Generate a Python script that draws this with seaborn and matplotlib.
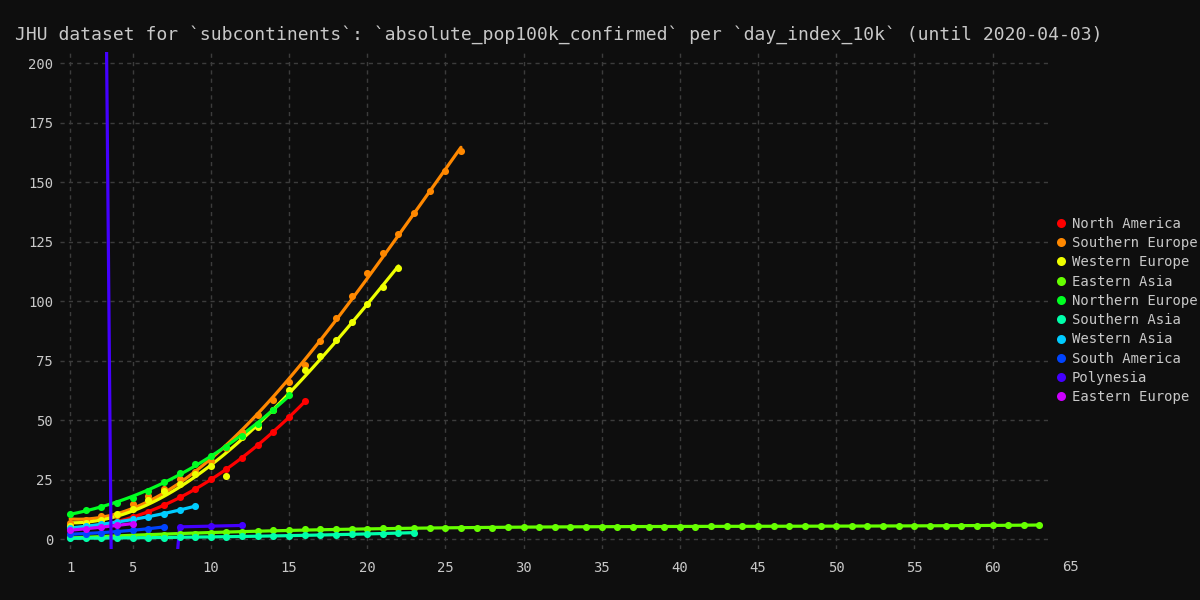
import colorsys
import numpy as np
import pandas as pd
import matplotlib
matplotlib.use("Agg")
import matplotlib.pyplot as plt
from matplotlib.lines import Line2D
import seaborn as sns

TITLE = "JHU dataset for `subcontinents`: `absolute_pop100k_confirmed` per `day_index_10k` (until 2020-04-03)"

regions = [
    "North America", "Southern Europe", "Western Europe", "Eastern Asia",
    "Northern Europe", "Southern Asia", "Western Asia", "South America",
    "Polynesia", "Eastern Europe",
]

# values per day index, starting at day 1
north_america = [4.6, 5.2, 6.0, 7.4, 9.4, 11.6, 14.3, 17.7, 21.4, 25.4, 29.6, 34.2,
                 39.7, 45.0, 51.4, 58.0]
southern_europe = [7.0, 8.1, 9.8, 10.1, 14.7, 18.2, 21.4, 25.2, 28.3, 32.8, 38.5, 45.0,
                   52.4, 58.6, 66.2, 73.1, 83.2, 93.0, 102.4, 111.8, 120.3, 128.4,
                   137.0, 146.2, 155.0, 163.4]
western_europe = [5.6, 7.0, 8.3, 10.5, 12.6, 16.4, 20.3, 23.5, 27.3, 30.7, 26.8, 43.1,
                  47.1, 54.5, 62.9, 71.0, 76.9, 83.6, 91.5, 99.1, 106.0, 113.9]
eastern_asia = [1.0, 1.1, 1.2, 1.4, 1.6, 1.8, 2.0, 2.3, 2.5, 2.7,
                3.0, 3.3, 3.5, 3.8, 4.0, 4.2, 4.3, 4.4, 4.5, 4.6,
                4.7, 4.75, 4.8, 4.85, 4.9, 4.95, 5.0, 5.0, 5.05, 5.1,
                5.1, 5.15, 5.2, 5.2, 5.25, 5.3, 5.3, 5.35, 5.4, 5.4,
                5.45, 5.5, 5.5, 5.55, 5.6, 5.6, 5.6, 5.65, 5.65, 5.7,
                5.7, 5.7, 5.75, 5.75, 5.8, 5.8, 5.8, 5.85, 5.85, 5.9,
                5.9, 5.9, 5.95]
northern_europe = [10.8, 12.2, 13.6, 15.5, 17.6, 20.5, 24.2, 28.0, 31.7, 35.2, 39.0,
                   43.3, 48.6, 54.5, 60.8]
southern_asia = [0.5, 0.55, 0.6, 0.65, 0.7, 0.75, 0.8, 0.9, 1.0, 1.1, 1.2, 1.3, 1.4,
                 1.5, 1.6, 1.75, 1.9, 2.0, 2.15, 2.3, 2.5, 2.7, 2.9]
western_asia = [4.8, 5.6, 6.4, 7.3, 8.4, 9.6, 10.9, 12.4, 14.0]
south_america = [2.2, 2.5, 2.9, 3.3, 3.9, 4.5, 5.3]
eastern_europe = [3.9, 4.5, 5.2, 5.9, 6.7]

polynesia_days = [8, 10, 12]
polynesia = [5.3, 5.6, 5.9]
# fitted curve of Polynesia as it appears in the picture (mostly off-screen)
polynesia_fit_days = [3, 4, 5, 6, 7, 8, 9, 10, 11, 12]
polynesia_fit = [443, -278, -250, -180, -73, 5.3, 5.45, 5.6, 5.75, 5.9]

series = {
    "North America": north_america,
    "Southern Europe": southern_europe,
    "Western Europe": western_europe,
    "Eastern Asia": eastern_asia,
    "Northern Europe": northern_europe,
    "Southern Asia": southern_asia,
    "Western Asia": western_asia,
    "South America": south_america,
    "Eastern Europe": eastern_europe,
}

x_ticks = [1, 5, 10, 15, 20, 25, 30, 35, 40, 45, 50, 55, 60]
y_ticks = [0, 25, 50, 75, 100, 125, 150, 175, 200]

BG = "#0e0e0e"
TEXT = "#c8c8c8"
GRID = "#3c3c3c"
FONT = "DejaVu Sans Mono"

sns.set_theme(style="dark")
plt.rcParams["font.family"] = [FONT, "DejaVu Sans"]

colors = {r: colorsys.hsv_to_rgb(h, 1.0, 1.0)
          for r, h in zip(regions, np.linspace(0, 0.8, len(regions)))}

fig = plt.figure(figsize=(12, 6), dpi=100, facecolor=BG)
ax = fig.add_axes([0.05, 0.085, 0.824, 0.828])
ax.set_facecolor(BG)

for name, values in series.items():
    df = pd.DataFrame({"day": np.arange(1, len(values) + 1), "value": values})
    sns.regplot(data=df, x="day", y="value", order=3, ci=None, truncate=True,
                color=colors[name], ax=ax,
                scatter_kws={"s": 26, "alpha": 1, "linewidths": 0, "zorder": 3},
                line_kws={"lw": 2.3, "zorder": 2})

poly_fit_df = pd.DataFrame({"day": polynesia_fit_days, "value": polynesia_fit})
sns.lineplot(data=poly_fit_df, x="day", y="value", color=colors["Polynesia"],
             lw=2.3, ax=ax, zorder=2)
poly_df = pd.DataFrame({"day": polynesia_days, "value": polynesia})
sns.scatterplot(data=poly_df, x="day", y="value", color=colors["Polynesia"],
                s=26, linewidth=0, ax=ax, zorder=3)

ax.set_xlim(0.35, 63.6)
ax.set_ylim(-4, 204.7)
ax.set_xticks(x_ticks)
ax.set_yticks(y_ticks)
ax.set_xlabel("")
ax.set_ylabel("")
ax.grid(True, color=GRID, linestyle=(0, (3, 3)), linewidth=1)
for s in ax.spines.values():
    s.set_visible(False)
ax.tick_params(axis="both", length=0, colors=TEXT, labelsize=10)
ax.tick_params(axis="x", pad=9)
ax.tick_params(axis="y", pad=5)
# the reference shows one more tick label past the right edge
ax.text(65, -0.036, "65", transform=ax.get_xaxis_transform(), ha="center",
        va="center", color=TEXT, fontsize=10, clip_on=False)

handles = [Line2D([], [], marker="o", linestyle="", markersize=6.5,
                  markerfacecolor=colors[r], markeredgewidth=0) for r in regions]
leg = ax.legend(handles, regions, loc="center left", bbox_to_anchor=(1.0, 0.48),
                frameon=False, fontsize=10, handlelength=0.8, handletextpad=0.35,
                labelspacing=0.38, borderaxespad=0.1)
for t in leg.get_texts():
    t.set_color(TEXT)

fig.text(15 / 1200, 1 - 35 / 600, TITLE, ha="left", va="center", color=TEXT,
         fontsize=13)

fig.savefig("out.png", dpi=100, facecolor=BG)
